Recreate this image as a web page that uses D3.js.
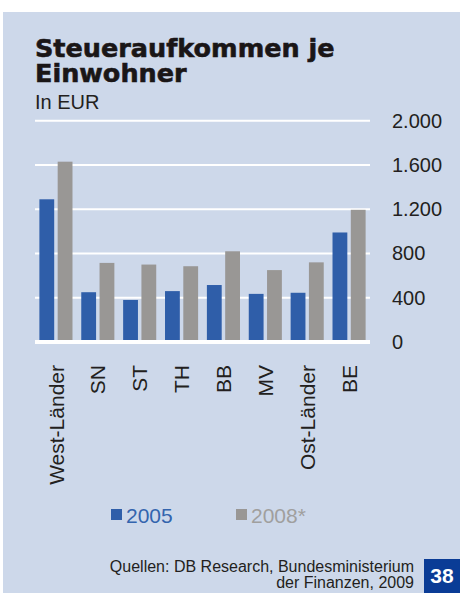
<!DOCTYPE html>
<html>
<head>
<meta charset="utf-8">
<script src="https://cdn.jsdelivr.net/npm/d3@7"></script>
<style>
  body { margin: 0; background: #fff; }
  text { font-family: "Liberation Sans", Arial, sans-serif; fill: #231f20; }
</style>
</head>
<body>
<div id="chart"></div>
<script>
// Data
const categories = ["West-Länder", "SN", "ST", "TH", "BB", "MV", "Ost-Länder", "BE"];
const series = ["2005", "2008*"];
const values2005 = [1290, 450, 380, 460, 515, 435, 445, 990];
const values2008 = [1630, 715, 700, 685, 820, 650, 720, 1195];
const yTicks = [0, 400, 800, 1200, 1600, 2000];

const width = 460;
const height = 593;
const colors = { "2005": "#2f5ea9", "2008*": "#999795" };
const legendText = { "2005": "#3364ae", "2008*": "#a09f9e" };

const svg = d3.select("#chart")
    .append("svg")
    .attr("width", width)
    .attr("height", height);

// Panel background
svg.append("rect")
    .attr("x", 3).attr("y", 12)
    .attr("width", width - 3).attr("height", height - 12)
    .attr("fill", "#cdd8ea");

// Title (heavy face: DejaVu bold with a thin stroke)
const title = svg.append("text")
    .style("font-family", "'DejaVu Sans', sans-serif")
    .style("font-weight", "bold")
    .style("font-size", "25.5px")
    .style("fill", "#1a1617")
    .style("stroke", "#1a1617")
    .style("stroke-width", "0.6px");
title.append("tspan").attr("x", 35).attr("y", 57).text("Steueraufkommen je");
title.append("tspan").attr("x", 35).attr("y", 82).text("Einwohner");

svg.append("text")
    .attr("x", 35).attr("y", 109)
    .style("font-size", "20px")
    .text("In EUR");

// Scales
const x = d3.scaleBand()
    .domain(categories)
    .range([35, 370]);

const x1 = d3.scaleBand()
    .domain(series)
    .range([0, x.bandwidth()])
    .paddingInner(0.19)
    .paddingOuter(0.24);

const y = d3.scaleLinear()
    .domain([0, 2000])
    .range([342, 120.75]);

const de = d3.formatLocale({ decimal: ",", thousands: ".", grouping: [3], currency: ["", " €"] });

// Gridlines
svg.append("g")
    .selectAll("line")
    .data(yTicks.filter(d => d > 0))
    .enter()
    .append("line")
    .attr("x1", 35).attr("x2", 370)
    .attr("y1", d => y(d)).attr("y2", d => y(d))
    .attr("stroke", "#fff")
    .attr("stroke-width", 2);

// Bars
const rows = categories.map((c, i) => ({ cat: c, vals: [
    { key: "2005", value: values2005[i] },
    { key: "2008*", value: values2008[i] }
] }));

svg.append("g")
    .selectAll("g")
    .data(rows)
    .enter()
    .append("g")
    .attr("transform", d => `translate(${x(d.cat)},0)`)
    .selectAll("rect")
    .data(d => d.vals)
    .enter()
    .append("rect")
    .attr("x", d => x1(d.key))
    .attr("width", x1.bandwidth())
    .attr("y", d => y(d.value))
    .attr("height", d => y(0) - y(d.value))
    .attr("fill", d => colors[d.key]);

// Zero line
svg.append("line")
    .attr("x1", 35).attr("x2", 370)
    .attr("y1", y(0)).attr("y2", y(0))
    .attr("stroke", "#fff")
    .attr("stroke-width", 4);

// Right axis labels
const yAxis = d3.axisRight(y)
    .tickValues(yTicks)
    .tickSize(0)
    .tickPadding(0)
    .tickFormat(de.format(",d"));

svg.append("g")
    .attr("transform", "translate(392,0)")
    .call(yAxis)
    .call(g => g.select(".domain").remove())
    .selectAll("text")
    .attr("fill", "#231f20")
    .style("font-size", "20px")
    .style("font-family", "'Liberation Sans', Arial, sans-serif");

// Category labels
const xAxis = d3.axisBottom(x).tickSize(0);

svg.append("g")
    .attr("transform", "translate(0,365)")
    .call(xAxis)
    .call(g => g.select(".domain").remove())
    .selectAll("text")
    .attr("transform", "rotate(-90)")
    .attr("x", 0)
    .attr("y", 0)
    .attr("dy", "0.36em")
    .attr("fill", "#231f20")
    .style("text-anchor", "end")
    .style("font-size", "21px")
    .style("font-family", "'Liberation Sans', Arial, sans-serif");

// Legend
const legendX = { "2005": 111, "2008*": 236 };
const legend = svg.append("g")
    .selectAll("g")
    .data(series)
    .enter()
    .append("g")
    .attr("transform", d => `translate(${legendX[d]},509)`);

legend.append("rect")
    .attr("width", 11).attr("height", 11)
    .attr("fill", d => colors[d]);

legend.append("text")
    .attr("x", 15).attr("y", 13.5)
    .style("font-size", "21px")
    .style("fill", d => legendText[d])
    .text(d => d);

// Source
const source = svg.append("text")
    .attr("text-anchor", "end")
    .style("font-size", "16px");
source.append("tspan").attr("x", 414).attr("y", 572).text("Quellen: DB Research, Bundesministerium");
source.append("tspan").attr("x", 414).attr("y", 588).text("der Finanzen, 2009");

// Page number box
svg.append("rect")
    .attr("x", 424).attr("y", 559)
    .attr("width", width - 424).attr("height", height - 559)
    .attr("fill", "#0a3c96");
svg.append("text")
    .attr("x", 442).attr("y", 583)
    .attr("text-anchor", "middle")
    .style("font-size", "21px")
    .style("font-weight", "bold")
    .style("fill", "#fff")
    .text("38");
</script>
</body>
</html>
